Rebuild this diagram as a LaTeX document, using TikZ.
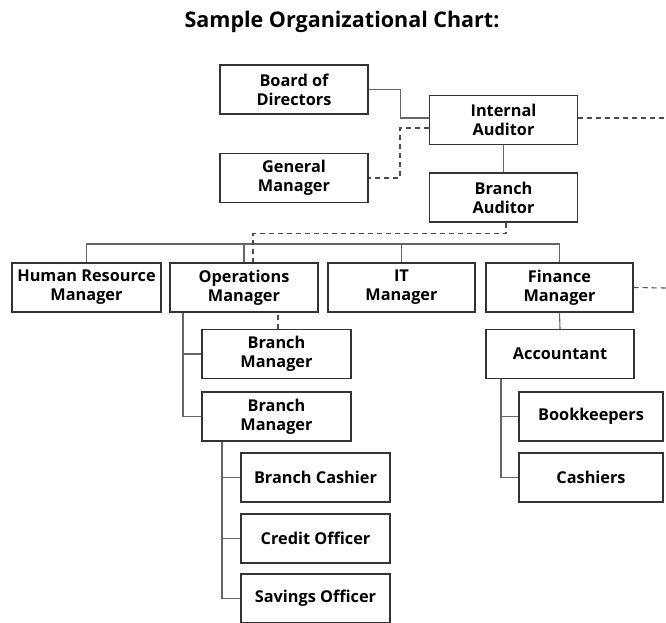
\documentclass[tikz,border=0pt]{standalone}
\usepackage{fontspec}
\setmainfont{Open Sans}
\begin{document}
\begin{tikzpicture}[x=1pt, y=-1pt,
    orgbox/.style={draw=black!80, line width=1.1pt, minimum width=148pt, minimum height=49pt,
        inner sep=0pt, align=center, font=\fontsize{16.3}{19}\selectfont\bfseries},
    link/.style={draw=black!60, line width=1.1pt},
    dlink/.style={draw=black!70, line width=1.1pt, dash pattern=on 5pt off 4pt}]

    \useasboundingbox (0,0) rectangle (666,623);

    % Title
    \node[font=\fontsize{21.5}{24}\selectfont\bfseries] (title) at (342,22) {Sample Organizational Chart:};

    % Top level
    \node[orgbox] (board) at (294,89.5) {Board of\\Directors};
    \node[orgbox] (intaud) at (503.5,120) {Internal\\Auditor};
    \node[orgbox] (genmgr) at (294,178) {General\\Manager};
    \node[orgbox] (braud) at (503.5,197.5) {Branch\\Auditor};

    % Managers
    \node[orgbox, minimum width=149pt] (hrm) at (86.5,287.5) {Human Resource\\Manager};
    \node[orgbox] (opsm) at (244,287.5) {Operations\\Manager};
    \node[orgbox, minimum width=147pt] (itm) at (401.5,287.5) {IT\\Manager};
    \node[orgbox, minimum width=147pt] (finm) at (559.5,287.5) {Finance\\Manager};

    % Branch side
    \node[orgbox, minimum width=149pt] (brm1) at (276.5,354) {Branch\\Manager};
    \node[orgbox, minimum width=149pt] (brm2) at (276.5,416.5) {Branch\\Manager};
    \node[orgbox, minimum width=149pt] (cashier) at (315.5,477.5) {Branch Cashier};
    \node[orgbox, minimum width=149pt] (credit) at (315.5,538.5) {Credit Officer};
    \node[orgbox, minimum width=149pt] (savings) at (315.5,598.5) {Savings Officer};

    % Finance side
    \node[orgbox] (acct) at (560,354) {Accountant};
    \node[orgbox, minimum width=144pt] (bookk) at (591,416.5) {Bookkeepers};
    \node[orgbox, minimum width=144pt] (cashiers) at (591,477.5) {Cashiers};

    % Free ends and bus
    \coordinate (bus) at (0,244);
    \coordinate (rtop) at (666,118);
    \coordinate (rfin) at (666,288);

    % Top connectors
    \draw[link] (board.east) -- ++(32,0) |- ([yshift=2pt]intaud.west);
    \draw[dlink] ([yshift=-8pt]intaud.west) -- ++(-29,0) |- (genmgr.east);
    \draw[dlink] ([yshift=2pt]intaud.east) -- (rtop);
    \draw[link] (intaud.south) -- (braud.north);

    % Manager bus
    \draw[link] (hrm.north) -- (hrm.north |- bus) -| (finm.north);
    \draw[link] (opsm.north) -- (opsm.north |- bus);
    \draw[link] (itm.north) -- (itm.north |- bus);
    \draw[dlink] ([xshift=2.5pt]braud.south) -- ++(0,11) -| ([xshift=9pt]opsm.north);
    \draw[dlink] (finm.east) -- (rfin);

    % Operations branch
    \draw[link] ([xshift=-61pt]opsm.south) |- (brm2.west);
    \draw[link] (brm1.west) -- ++(-19,0);
    \draw[dlink] ([xshift=1.5pt]brm1.north) -- ([xshift=1.5pt]brm1.north |- opsm.south);
    \draw[link] ([xshift=-54.5pt]brm2.south) |- (savings.west);
    \draw[link] (cashier.west) -- ++(-19,0);
    \draw[link] (credit.west) -- ++(-19,0);

    % Finance branch
    \draw[link] (finm.south) -- (acct.north);
    \draw[link] ([xshift=-59pt]acct.south) |- (cashiers.west);
    \draw[link] (bookk.west) -- ++(-18,0);

\end{tikzpicture}
\end{document}
